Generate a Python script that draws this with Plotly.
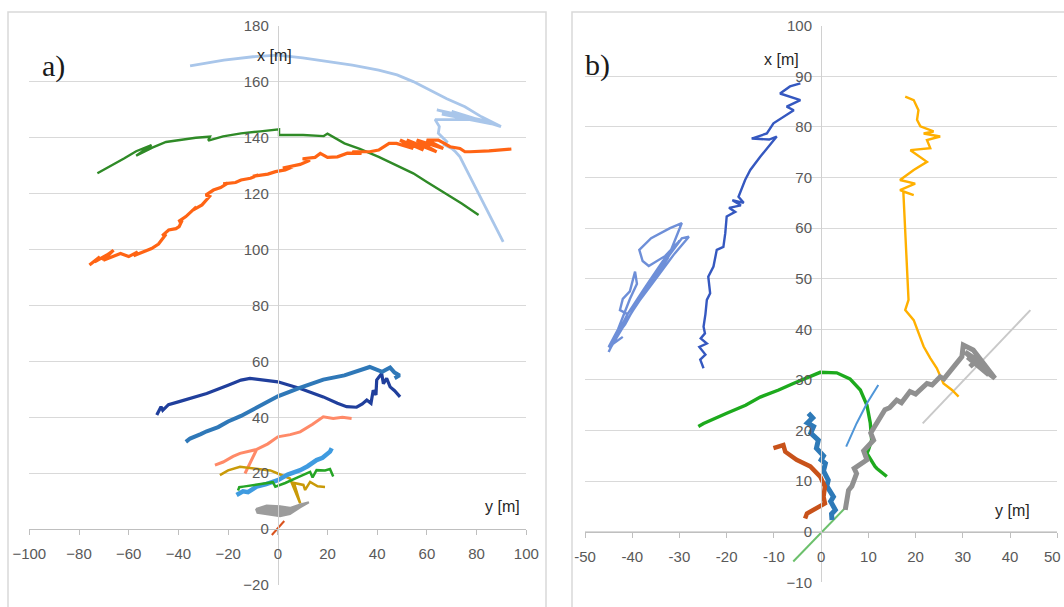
import plotly.graph_objects as go

W, H = 1064, 607

# ---------------- Panel a) data ----------------
a_lightblue_x = [-35.3, -21.7, -10, -0.1, 10, 19.9, 30, 40.6, 48, 54.5, 61.2, 68, 75.3, 82, 89.8,
                 70, 86, 66, 84, 64, 80, 63.3, 65, 64.6, 68, 67, 70, 71.5, 73.3, 76, 80, 85.4, 90.7]
a_lightblue_y = [165.7, 167.8, 169, 169.6, 168.6, 167.4, 166, 164.2, 162.5, 160.1, 157.1, 154, 151.1, 147.5, 144,
                 149.5, 145, 148.5, 146, 150, 146.5, 146.5, 144, 141.6, 138.6, 137.5, 136.2, 135, 133.2, 128.4, 121.3, 111.7, 102.8]

a_green_x = [-72.6, -67, -61.9, -57, -50.8, -57, -50.5, -45, -39.7, -33, -27.3, -28, -22, -14.8, -7, 0.5, 0.5,
             10.2, 18.5, 20, 26.8, 33, 40.6, 47, 54.5, 60, 67, 74, 80.8]
a_green_y = [127.3, 130, 132.6, 135.2, 137.4, 133.6, 136.5, 138.5, 139.2, 140, 140.4, 139, 140.5, 141.6, 142.3, 143, 141,
             141, 140.6, 141.5, 138, 136, 133.2, 130.5, 127.3, 124.2, 120.5, 116.5, 112.4]

a_orange_x = [-75.8, -71.6, -73.7, -68, -71, -66.1, -70.2, -63.3, -60, -56.4, -58, -50.8, -48, -46.7, -45, -46.5,
              -43.9, -41, -39.7, -38.5, -40, -37, -35, -32.8, -34, -30.5, -28.6, -27.5, -29, -25.9, -23, -20.3,
              -22, -17, -14.8, -11, -7.9, -10, -4, -0.9, 3, 6, 2, 9, 12.9, 10, 15, 17.1, 20, 24, 28, 33.7, 30,
              37, 40.6, 44.8, 47.8, 54.5, 49.2, 58.6, 51.9, 63.9, 55.9, 66.6, 59.9, 64.6, 67, 69.3, 73.3, 75.3,
              77.3, 85, 94]
a_orange_y = [94.5, 97.4, 95.6, 98.5, 96.5, 99.8, 96.2, 98.6, 97.5, 99.2, 97.8, 100.4, 102, 103.4, 105.5, 105,
              107, 107.5, 108.2, 110.5, 110, 111.8, 113.5, 115.3, 114.2, 116, 117.7, 119, 119.5, 121.3, 122.2, 123.7,
              123.5, 124, 124.9, 125.5, 126.7, 126.2, 127, 127.9, 128.5, 129.6, 129.2, 130.5, 132, 132.5, 133, 134.4,
              133, 133.2, 134.5, 134.4, 135, 135, 135.6, 138, 138, 136.2, 139.2, 135.6, 139.2, 135, 139.2, 136.2,
              139.2, 139.2, 138, 136.8, 136.2, 135, 135, 135.3, 136]

a_darkblue_x = [-48.7, -47, -46.3, -44, -39.7, -34, -28.6, -20, -14.8, -11.2, -7.9, 0, 9, 18.3, 24, 27.7,
                31.7, 34, 35.8, 37.5, 38.4, 39.5, 39.8, 41.8, 42.5, 43.8, 45.2, 47, 49.2]
a_darkblue_y = [40.8, 43.8, 42.5, 44.5, 45.6, 47.2, 48.5, 51.5, 53.3, 53.9, 53.6, 52.7, 50.3, 47.3, 45, 43.8,
                43.6, 44.8, 46.2, 45, 49.7, 48, 53.3, 55.7, 52, 53.9, 50.9, 49.5, 47.3]

a_medblue_x = [-37, -35.3, -31, -28.6, -24, -20, -14.8, -7, 0, 8.8, 14, 18.3, 26.8, 31.7, 37, 40, 42,
               45.2, 47, 49, 47]
a_medblue_y = [31.2, 32.4, 34, 35, 36.5, 38.5, 40.5, 44, 47.5, 50.5, 52, 53.5, 55, 56.3, 58, 57, 56.3,
               57.8, 56, 55, 54]

a_salmon_x = [-25.3, -22, -18, -15.2, -8.5, -13.2, -8.5, -4, 0, 5, 9, 14, 18.3, 22.3, 26, 29.7]
a_salmon_y = [22.9, 24, 26, 27.1, 28.5, 19.9, 28.5, 30.5, 33, 33.8, 34.8, 37.5, 40.2, 39.6, 40, 39.6]

a_gold_x = [-23.3, -20, -15.2, -12, -8.5, -3, 0, 4.9, 9, 6.5, 10.3, 11, 13, 16, 19]
a_gold_y = [19.3, 21, 22.3, 22, 21.7, 21, 19.9, 18.1, 9.2, 16.5, 15.8, 14, 16.9, 15.3, 15.1]

a_brightblue_x = [-16.6, -14, -12, -8.5, -5, 0, 4, 9, 12, 15.6, 18, 21, 21.7]
a_brightblue_y = [12.2, 13.5, 13.2, 15.2, 16, 17.5, 19.5, 21.1, 22.5, 24.7, 25.5, 27.7, 28.9]

a_green2_x = [-16, -15.5, -13.9, -8, -2, -1, 3, 8, 13, 14, 15.6, 19, 21, 22.3]
a_green2_y = [13.8, 15, 15.2, 16, 16.8, 15.2, 16.5, 18.5, 20.5, 18.5, 21.1, 21, 21.5, 18.8]

a_gray_x = [-8.8, -4.5, 0.9, 4.9, 9, 12.5, 9, 4.9, 0.9, -4.5, -8.2, -8.8]
a_gray_y = [7.2, 8.4, 8.2, 7.6, 8.8, 9.6, 7.8, 5.4, 4.6, 5.2, 5.8, 7.2]

a_red_x = [-2.4, 2.6]
a_red_y = [-2.1, 2.9]

# ---------------- Panel b) data ----------------
b_periwinkle_x = [-45, -41, -37, -33, -29.5, -28, -31, -35, -39, -43, -44.5, -40, -36, -32.5, -29.5, -32,
                  -36, -38.5, -37.8, -36.5, -33, -30.5, -34, -38, -42, -43.5, -41.5, -38, -34.5, -30, -33.5,
                  -37.5, -41, -42.6, -42, -40.5, -39.4, -39, -40.5, -43, -45, -42]
b_periwinkle_y = [35.5, 43, 48.5, 53.5, 58, 58.3, 55, 50, 45, 39, 36.5, 43.5, 49, 54, 61, 60,
                  58, 55.7, 53.5, 52.5, 54.5, 57, 52, 46.5, 40.5, 38.5, 41, 47, 52, 57.5, 53.5,
                  48, 43, 43.8, 46, 47.5, 51.4, 49, 46, 40, 36.5, 38.5]

b_darkblue_x = [-24.9, -25.6, -24.5, -25.8, -24.2, -25.5, -24.6, -24.9, -24.5, -24.2, -23.5, -23.9, -22.8,
                -22.1, -20.7, -20.3, -20, -18.2, -19.5, -17, -18.8, -16.4, -17.5, -16.1, -15, -12.9, -9.4,
                -11, -14.7, -11.5, -10.1, -5.8, -7.3, -4.4, -8.7, -6.6, -4.4]
b_darkblue_y = [32.3, 34, 35, 36.5, 37.2, 38.2, 39.2, 40.5, 43, 45.8, 47.1, 50.4, 52.4,
                55.7, 56.3, 59, 62.3, 63.2, 64, 64.5, 65.5, 65, 66.2, 69.5, 71.5, 74.1, 78.1,
                77.5, 77.7, 78.7, 80.7, 83.3, 84, 85.3, 86.6, 88, 88.6]

b_amber_x = [17.8, 19.6, 20.6, 20.3, 21, 23.8, 21.7, 25.2, 22.4, 23.1, 18.9, 22.4, 19.6, 16.7, 19.9, 16.7,
             19.6, 17.4, 18.5, 17.8, 19.6, 20.6, 21.7, 23.1, 24.5, 25.9, 27.7, 29.1]
b_amber_y = [86, 85.3, 83.3, 81.4, 80.1, 79.1, 78.7, 78.1, 77.4, 75.8, 75.4, 73.1, 71.5, 69.5, 68.8, 67.5,
             66.5, 67.2, 45.8, 43.8, 41.8, 39.2, 36.6, 34.3, 32.3, 29.3, 28, 26.7]

b_green_x = [-26, -24.9, -20, -16, -12.9, -9, -5.9, -1.6, -0.2, 3.3, 6.1, 8.3, 9.7, 10.4, 10.7, 10,
             9.7, 11.4, 11.8, 13.9]
b_green_y = [20.8, 21.4, 23.4, 25, 26.6, 28, 29.3, 31, 31.5, 31.4, 30.2, 28, 25, 21.5, 18.1, 16.1,
             15.5, 12.9, 12.5, 10.9]

b_steel_x = [-2.7, -1.8, -2.9, -1.6, -2.2, -0.6, -1, 0.5, 0, 0.9, 0.5, 1.5, 1.2, 2.6, 2, 3, 2.2, 2.3]
b_steel_y = [23.4, 22.5, 21.5, 20.8, 19.5, 18.1, 16.5, 15, 14.2, 13.5, 12, 10.2, 9, 6.9, 6, 4.3, 3.5, 2.3]

b_darkorange_x = [-10.1, -8, -7.6, -5.2, -2.3, -0.2, 0.8, 0.5, 0.8, -1.3, -3, -3.4]
b_darkorange_y = [16.5, 17.1, 15.8, 14.2, 12.9, 10.9, 8.9, 6.9, 5.6, 4.6, 3.6, 2.6]

b_lightblue_x = [5.3, 7.5, 9.7, 12.1]
b_lightblue_y = [16.8, 21.4, 25.4, 29]

b_gray_x = [5.1, 5.8, 6.5, 7.5, 7, 9.7, 9, 11.1, 10.5, 12.1, 13.5, 14.5, 16, 17, 18.8, 20, 22.4, 23.5,
            25.2, 26, 28, 29.8, 30.1, 32.2, 36.8, 31, 35.5, 30.5, 33, 31.5]
b_gray_y = [4.3, 8.2, 9, 11.5, 12.5, 14.2, 16, 18.1, 19.5, 22.1, 24.1, 24.5, 26, 25.5, 27.7, 27.2, 29.3, 29,
            30.6, 30.2, 32.6, 34.6, 36.9, 35.9, 30.3, 34.5, 31, 35.5, 33.9, 32.6]

b_lightgray_x = [21.5, 44.3]
b_lightgray_y = [21.4, 43.8]

b_lightgreen_x = [-5.9, 5.4]
b_lightgreen_y = [-5.9, 5.0]

a_ticks_x = list(range(-100, 101, 20))
a_ticks_y = list(range(-20, 181, 20))
b_ticks_x = list(range(-50, 51, 10))
b_ticks_y = list(range(-10, 101, 10))
# the last panel-b x label is written as a right-aligned note so it stays inside the page
b_ticktext_x = [str(v) for v in b_ticks_x[:-1]] + [""]
b_last_label = str(b_ticks_x[-1])

# ---------------- figure ----------------
fig = go.Figure()

series_a = [
    (a_lightblue_x, a_lightblue_y, "#a9c6ea", 2.8),
    (a_green_x, a_green_y, "#2f8a27", 2.4),
    (a_orange_x, a_orange_y, "#ff6414", 3.2),
    (a_darkblue_x, a_darkblue_y, "#203f9c", 3.2),
    (a_medblue_x, a_medblue_y, "#2f78b8", 4),
    (a_salmon_x, a_salmon_y, "#ff8a68", 3),
    (a_gold_x, a_gold_y, "#c99a08", 2.5),
    (a_brightblue_x, a_brightblue_y, "#3f9be0", 4.5),
    (a_green2_x, a_green2_y, "#25a525", 2.5),
    (a_red_x, a_red_y, "#d9531e", 2),
]
for xs, ys, c, w in series_a:
    fig.add_trace(go.Scatter(x=xs, y=ys, mode="lines", line=dict(color=c, width=w),
                             xaxis="x", yaxis="y", showlegend=False, hoverinfo="skip"))
fig.add_trace(go.Scatter(x=a_gray_x, y=a_gray_y, mode="lines", fill="toself", fillcolor="#9c9c9c",
                         line=dict(color="#9c9c9c", width=2), xaxis="x", yaxis="y",
                         showlegend=False, hoverinfo="skip"))

series_b = [
    (b_lightgray_x, b_lightgray_y, "#c9c9c9", 2),
    (b_lightgreen_x, b_lightgreen_y, "#6cc06c", 2),
    (b_periwinkle_x, b_periwinkle_y, "#6e8fd8", 2.4),
    (b_darkblue_x, b_darkblue_y, "#3558c0", 2.4),
    (b_amber_x, b_amber_y, "#ffb000", 2.4),
    (b_green_x, b_green_y, "#1daa1d", 3.4),
    (b_steel_x, b_steel_y, "#2e7ab8", 5),
    (b_darkorange_x, b_darkorange_y, "#c8521a", 4.5),
    (b_lightblue_x, b_lightblue_y, "#4f96d8", 2),
    (b_gray_x, b_gray_y, "#909090", 5),
]
for xs, ys, c, w in series_b:
    fig.add_trace(go.Scatter(x=xs, y=ys, mode="lines", line=dict(color=c, width=w),
                             xaxis="x2", yaxis="y2", showlegend=False, hoverinfo="skip"))

FONT = "Liberation Sans Narrow, Arial Narrow, Liberation Sans, Arial, sans-serif"
tick_font = dict(family=FONT, size=15, color="#595959")
title_font = dict(family=FONT, size=16, color="#262626")


def px(x):
    return x / W


def py(y):
    return 1 - y / H


xa_common = dict(anchor="free", automargin=False, showgrid=False, zeroline=False, showline=True,
                 linecolor="#bfbfbf", linewidth=1, ticks="outside", ticklen=5, tickcolor="#bfbfbf",
                 tickfont=tick_font, ticklabelstandoff=6, ticklabeloverflow="allow", fixedrange=True)
ya_common = dict(anchor="free", automargin=False, showgrid=True, gridcolor="#d9d9d9", gridwidth=1,
                 zeroline=False, showline=True, linecolor="#d0d0d0", linewidth=1, ticks="",
                 tickfont=tick_font, ticklabelstandoff=6, ticklabeloverflow="allow", fixedrange=True)

fig.update_layout(
    width=W, height=H, margin=dict(l=0, r=0, t=0, b=0, pad=0, autoexpand=False),
    paper_bgcolor="white", plot_bgcolor="white",
    xaxis=dict(domain=[px(29.3), px(526.3)], range=[-100, 100], position=py(529),
               tickvals=a_ticks_x, **xa_common),
    yaxis=dict(domain=[py(585), py(26)], range=[-20, 180], position=px(277.8),
               tickvals=a_ticks_y, **ya_common),
    xaxis2=dict(domain=[px(585), px(1057.3)], range=[-50, 50], position=py(531.7),
                tickvals=b_ticks_x, ticktext=b_ticktext_x, **xa_common),
    yaxis2=dict(domain=[py(582.3), py(25.7)], range=[-10, 100], position=px(821),
                tickvals=b_ticks_y, **ya_common),
    shapes=[
        dict(type="rect", xref="paper", yref="paper", x0=px(8), x1=px(546), y0=-0.05, y1=py(12),
             line=dict(color="#d9d9d9", width=1.5), fillcolor="rgba(0,0,0,0)", layer="below"),
        dict(type="rect", xref="paper", yref="paper", x0=px(572), x1=1.05, y0=-0.05, y1=py(12),
             line=dict(color="#d9d9d9", width=1.5), fillcolor="rgba(0,0,0,0)", layer="below"),
    ],
    annotations=[
        dict(text="a)", x=px(40), y=py(47), xref="paper", yref="paper", showarrow=False,
             font=dict(family="Liberation Serif, serif", size=30, color="#1a1a1a")),
        dict(text="b)", x=px(597), y=py(46), xref="paper", yref="paper", showarrow=False,
             font=dict(family="Liberation Serif, serif", size=30, color="#1a1a1a")),
        dict(text="x [m]", x=px(255), y=py(45), xref="paper", yref="paper", showarrow=False, font=title_font),
        dict(text="y [m]", x=px(502), y=py(517), xref="paper", yref="paper", showarrow=False, font=title_font),
        dict(text="x [m]", x=px(801), y=py(49), xref="paper", yref="paper", showarrow=False, font=title_font),
        dict(text="y [m]", x=px(1032), y=py(521), xref="paper", yref="paper", showarrow=False, font=title_font),
        dict(text=b_last_label, x=px(1063), y=py(556), xref="paper", yref="paper", showarrow=False,
             xanchor="right", yanchor="middle", font=tick_font),
    ],
)

fig.write_html("out.html", config={"displayModeBar": False},
               post_script="document.body.style.margin='0';document.body.style.overflow='hidden';")
